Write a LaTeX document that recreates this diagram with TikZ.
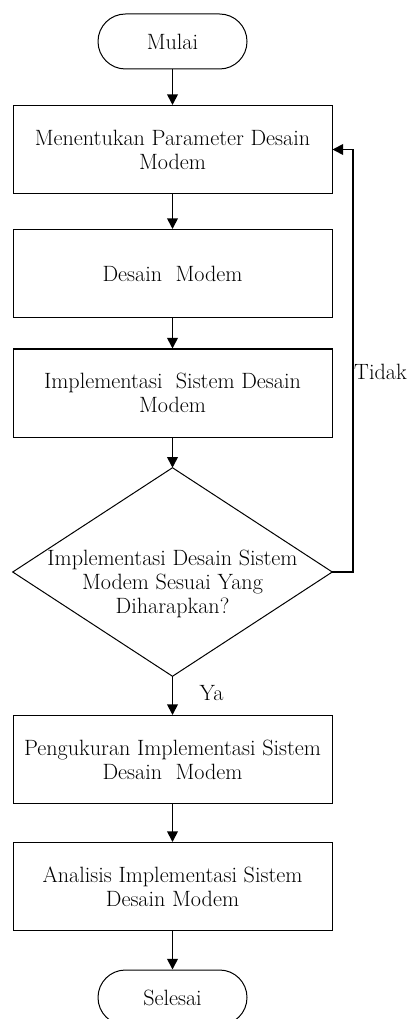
\documentclass[tikz,border=0pt]{standalone}
\usetikzlibrary{arrows.meta}
\begin{document}
\begin{tikzpicture}[x=0.75pt,y=-0.75pt,
  every node/.style={font=\fontsize{16.6}{18}\selectfont, align=center, inner sep=0pt},
  terminal/.style={draw, line width=0.75pt, rounded corners=20.6pt,
    minimum width=111.75pt, minimum height=41.25pt},
  process/.style={draw, line width=0.75pt, minimum width=239.25pt, minimum height=66pt},
  decision/.style={minimum width=239.25pt, minimum height=156pt},
  flow/.style={line width=1.3pt, -{Triangle[length=8pt,width=8pt]}},
  tag/.style={font=\fontsize{16.6}{18}\selectfont}]
  \useasboundingbox (0,0) rectangle (414,1019);

  % start / end terminals
  \node[terminal] (start) at (172.5,41.5) {Mulai};
  \node[terminal] (stop) at (172.5,997.5) {Selesai};

  % process steps
  \node[process] (b1) at (172.5,149.5) {Menentukan Parameter Desain\\Modem};
  \node[process] (b2) at (172.5,273.5) {Desain\ \ Modem};
  \node[process] (b3) at (172.5,393) {Implementasi\ \ Sistem Desain\\Modem};
  \node[process] (b4) at (172.5,759.5) {Pengukuran Implementasi Sistem\\Desain\ \ Modem};
  \node[process] (b5) at (172.5,886.5) {Analisis Implementasi Sistem\\Desain Modem};

  % decision diamond
  \node[decision] (dec) at (172.5,572) {};
  \draw[line width=0.75pt] (dec.north) -- (dec.east) -- (dec.south) -- (dec.west) -- cycle;
  \node (dectext) at (172.5,584) {Implementasi Desain Sistem\\Modem Sesuai Yang\\Diharapkan?};

  % main flow
  \draw[flow] (start) -- (b1);
  \draw[flow] (b1) -- (b2);
  \draw[flow] (b2) -- (b3);
  \draw[flow] (b3) -- (dec.north);
  \draw[flow] (dec.south) -- (b4);
  \draw[flow] (b4) -- (b5);
  \draw[flow] (b5) -- (stop);

  % loop back when the design does not meet expectations
  \draw[flow] (dec.east) -- ++(21,0) |- (b1.east);

  \node[tag] (no) at (380.5,372) {Tidak};
  \node[tag] (yes) at (211.5,693) {Ya};
\end{tikzpicture}
\end{document}
